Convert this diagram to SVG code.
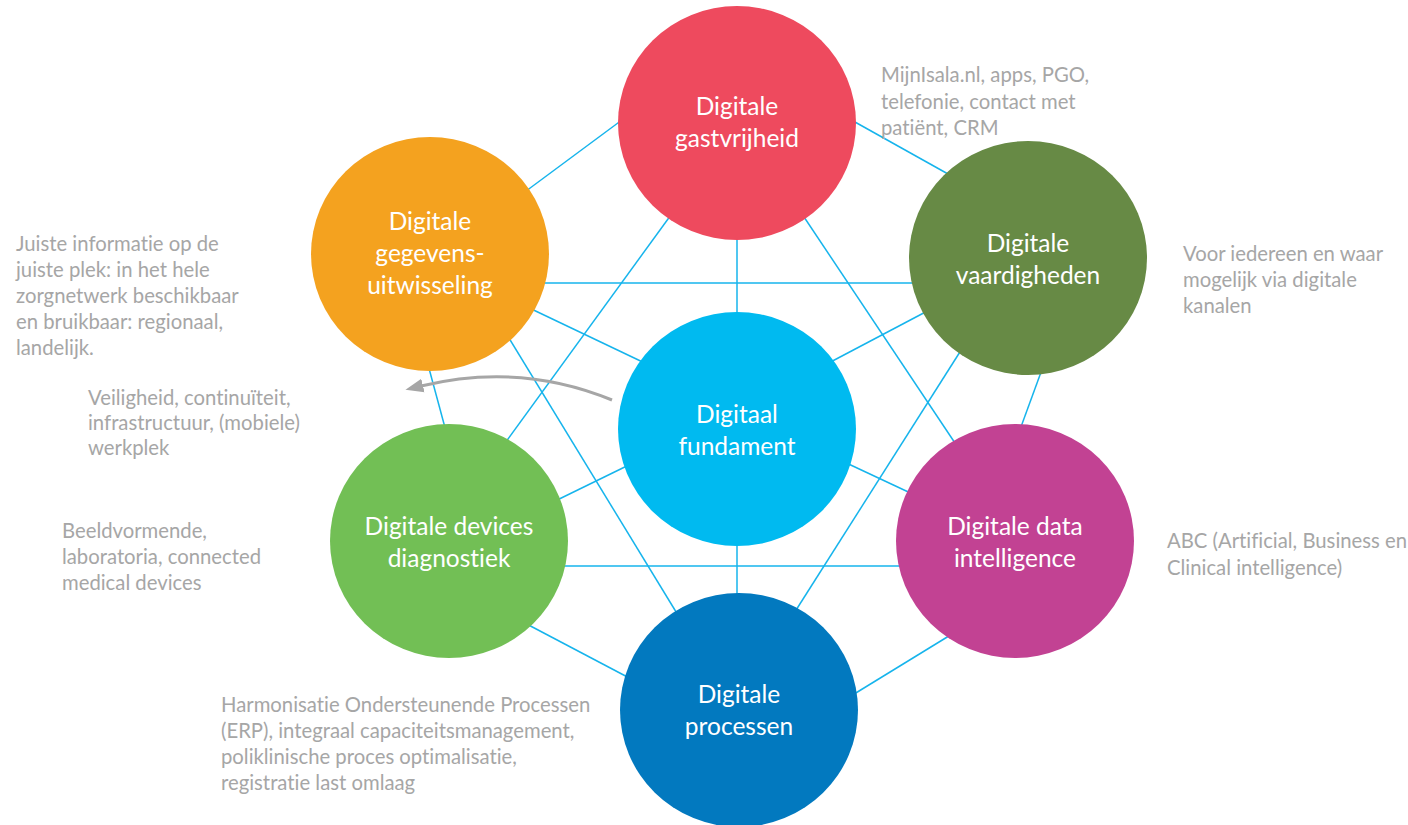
<svg xmlns="http://www.w3.org/2000/svg" width="1408" height="825" viewBox="0 0 1408 825">
<style>
.ln{stroke:#16b4ec;stroke-width:1.5;fill:none}
.lbl{font-family:Lato,"Liberation Sans",sans-serif;font-size:24.5px;fill:#ffffff;text-anchor:middle;font-variant-ligatures:no-common-ligatures}
.ann{font-family:Lato,"Liberation Sans",sans-serif;font-size:20.3px;fill:#a6a6a6;font-variant-ligatures:no-common-ligatures}
</style>
<defs>
<marker id="ah" markerUnits="userSpaceOnUse" markerWidth="20" markerHeight="16" viewBox="0 0 20 16" refX="2" refY="8" orient="auto">
<path d="M0,1 L18,8 L0,15 Z" fill="#a6a6a6"/>
</marker>
</defs>
<rect width="1408" height="825" fill="#ffffff"/>
<g id="connectors">
<line class="ln" x1="630" y1="114" x2="518" y2="197"/>
<line class="ln" x1="846" y1="117" x2="957" y2="179"/>
<line class="ln" x1="737" y1="232" x2="737" y2="320"/>
<line class="ln" x1="676" y1="208" x2="500" y2="450"/>
<line class="ln" x1="798" y1="208" x2="961" y2="452"/>
<line class="ln" x1="535" y1="283" x2="922" y2="283"/>
<line class="ln" x1="523" y1="305" x2="651" y2="366"/>
<line class="ln" x1="504" y1="330" x2="681" y2="620"/>
<line class="ln" x1="427" y1="361" x2="447" y2="435"/>
<line class="ln" x1="823" y1="366" x2="935" y2="307"/>
<line class="ln" x1="965" y1="344" x2="791" y2="618"/>
<line class="ln" x1="1044" y1="364" x2="1018" y2="435"/>
<line class="ln" x1="840" y1="460" x2="919" y2="497"/>
<line class="ln" x1="635" y1="462" x2="549" y2="504"/>
<line class="ln" x1="555" y1="566" x2="908" y2="566"/>
<line class="ln" x1="737" y1="540" x2="737" y2="600"/>
<line class="ln" x1="521" y1="621" x2="635" y2="681"/>
<line class="ln" x1="846" y1="699" x2="957" y2="631"/>
</g>
<g id="node-gastvrijheid">
<ellipse cx="737" cy="123" rx="119" ry="117" fill="#ee4a5e"/>
<text class="lbl" x="737" y="115">Digitale</text>
<text class="lbl" x="737" y="147">gastvrijheid</text>
</g>
<g id="node-gegevensuitwisseling">
<ellipse cx="430" cy="254" rx="119" ry="117" fill="#f4a21f"/>
<text class="lbl" x="430" y="230">Digitale</text>
<text class="lbl" x="430" y="262">gegevens-</text>
<text class="lbl" x="430" y="294">uitwisseling</text>
</g>
<g id="node-vaardigheden">
<ellipse cx="1028" cy="258" rx="119" ry="117" fill="#678a45"/>
<text class="lbl" x="1028" y="252">Digitale</text>
<text class="lbl" x="1028" y="284">vaardigheden</text>
</g>
<g id="node-fundament">
<ellipse cx="737" cy="429" rx="119" ry="117" fill="#00baf0"/>
<text class="lbl" x="737" y="423">Digitaal</text>
<text class="lbl" x="737" y="455">fundament</text>
</g>
<g id="node-devices">
<ellipse cx="449" cy="541" rx="119" ry="117" fill="#72bf55"/>
<text class="lbl" x="449" y="535">Digitale devices</text>
<text class="lbl" x="449" y="567">diagnostiek</text>
</g>
<g id="node-data">
<ellipse cx="1015" cy="541" rx="119" ry="117" fill="#c24293"/>
<text class="lbl" x="1015" y="535">Digitale data</text>
<text class="lbl" x="1015" y="567">intelligence</text>
</g>
<g id="node-processen">
<ellipse cx="739" cy="710" rx="119" ry="117" fill="#0279bf"/>
<text class="lbl" x="739" y="703">Digitale</text>
<text class="lbl" x="739" y="735">processen</text>
</g>
<g id="arrow">
<path d="M612,400 Q520,362 421,386" stroke="#a6a6a6" stroke-width="3" fill="none" marker-end="url(#ah)"/>
</g>
<g id="annotations">
<text class="ann" x="881" y="82">MijnIsala.nl, apps, PGO,</text>
<text class="ann" x="881" y="109">telefonie, contact met</text>
<text class="ann" x="881" y="135">patiënt, CRM</text>
<text class="ann" x="1183" y="261">Voor iedereen en waar</text>
<text class="ann" x="1183" y="287">mogelijk via digitale</text>
<text class="ann" x="1183" y="313">kanalen</text>
<text class="ann" x="1167" y="548">ABC (Artificial, Business en</text>
<text class="ann" x="1167" y="575">Clinical intelligence)</text>
<text class="ann" x="16" y="251">Juiste informatie op de</text>
<text class="ann" x="16" y="277">juiste plek: in het hele</text>
<text class="ann" x="16" y="303">zorgnetwerk beschikbaar</text>
<text class="ann" x="16" y="329">en bruikbaar: regionaal,</text>
<text class="ann" x="16" y="355">landelijk.</text>
<text class="ann" x="88" y="405">Veiligheid, continuïteit,</text>
<text class="ann" x="88" y="430">infrastructuur, (mobiele)</text>
<text class="ann" x="88" y="455">werkplek</text>
<text class="ann" x="62" y="538">Beeldvormende,</text>
<text class="ann" x="62" y="564">laboratoria, connected</text>
<text class="ann" x="62" y="590">medical devices</text>
<text class="ann" x="221" y="712">Harmonisatie Ondersteunende Processen</text>
<text class="ann" x="221" y="738">(ERP), integraal capaciteitsmanagement,</text>
<text class="ann" x="221" y="764">poliklinische proces optimalisatie,</text>
<text class="ann" x="221" y="790">registratie last omlaag</text>
</g>
</svg>
